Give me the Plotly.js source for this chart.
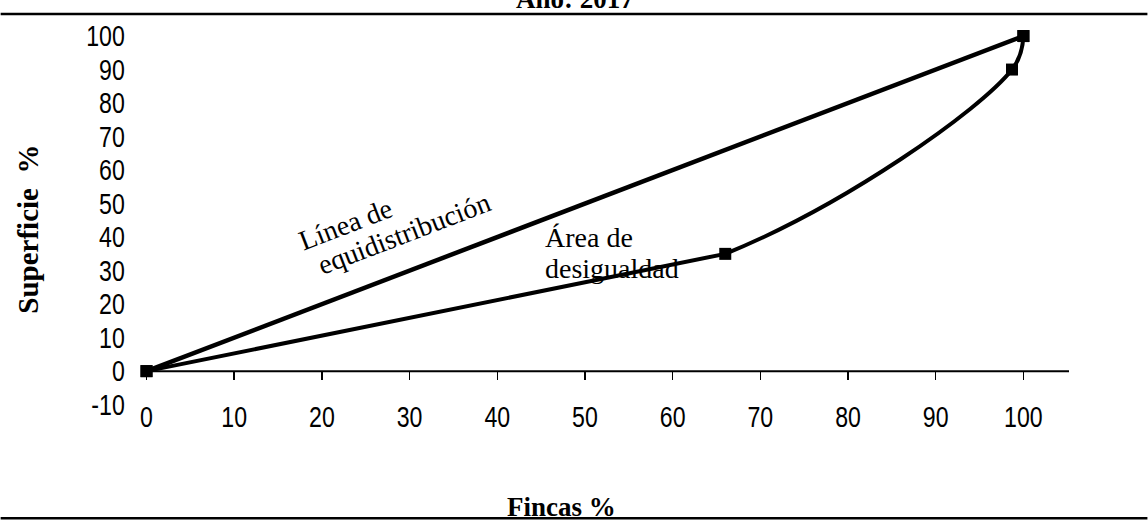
<!DOCTYPE html>
<html>
<head>
<meta charset="utf-8">
<script src="https://cdn.plot.ly/plotly-3.0.1.min.js"></script>
<style>html,body{margin:0;padding:0;background:#fff;}</style>
</head>
<body>
<div id="chart" style="width:1148px;height:521px;"></div>
<script>
// Data
const fincasPct = [0, 66, 98.7, 100];
const superficiePct = [0, 35, 90, 100];
const equiX = [0, 100];
const equiY = [0, 100];
const xTickVals = [0, 10, 20, 30, 40, 50, 60, 70, 80, 90, 100];
const yTickVals = [-10, 0, 10, 20, 30, 40, 50, 60, 70, 80, 90, 100];

// Layout geometry
const W = 1148, H = 521;
const L = 135.5, R = 78.5, T = 26, B = 113.1;
const PW = W - L - R, PH = H - T - B;
const XR = [-1.2, 105.2], YR = [-11, 103];
const xp = px => (px - L) / PW;
const yp = py => 1 - (py - T) / PH;
const xd = px => XR[0] + (px - L) / PW * (XR[1] - XR[0]);
const yd = py => YR[1] - (py - T) / PH * (YR[1] - YR[0]);

const serif = 'Liberation Serif, Times New Roman, serif';
const sans = 'Liberation Sans, Arial, sans-serif';

const traces = [
  {
    x: equiX, y: equiY, type: 'scatter', mode: 'lines+markers',
    line: {color: '#000', width: 4.5},
    marker: {symbol: 'square', size: 12, color: '#000'},
    hoverinfo: 'skip', showlegend: false
  },
  {
    x: fincasPct, y: superficiePct, type: 'scatter', mode: 'lines+markers',
    line: {color: '#000', width: 4, shape: 'spline', smoothing: 1},
    marker: {symbol: 'square', size: 12, color: '#000'},
    hoverinfo: 'skip', showlegend: false
  },
  {
    x: [0], y: [0], xaxis: 'x2', yaxis: 'y', type: 'scatter', mode: 'none',
    hoverinfo: 'skip', showlegend: false
  }
];

const layout = {
  width: W, height: H,
  margin: {l: L, r: R, t: T, b: B, pad: 0},
  paper_bgcolor: '#fff', plot_bgcolor: '#fff',
  showlegend: false,
  xaxis: {
    range: XR, tickvals: xTickVals, ticktext: xTickVals.map(String),
    showgrid: false, zeroline: false, showline: false, ticks: '',
    ticklabelstandoff: -9,
    tickfont: {family: sans, size: 26, color: '#000'}
  },
  xaxis2: {
    range: XR, overlaying: 'x', anchor: 'free',
    position: (0 - YR[0]) / (YR[1] - YR[0]),
    tickvals: xTickVals, showticklabels: false,
    ticks: 'outside', ticklen: 8, tickwidth: 1.5, tickcolor: '#000',
    showgrid: false, zeroline: false, showline: false
  },
  yaxis: {
    range: YR, tickvals: yTickVals, ticktext: yTickVals.map(String),
    showgrid: false, zeroline: false, showline: false,
    ticks: 'outside', ticklen: 5, tickcolor: 'rgba(0,0,0,0)',
    tickfont: {family: sans, size: 26, color: '#000'}
  },
  shapes: [
    {type: 'line', xref: 'x', yref: 'y', x0: 0, x1: XR[1], y0: 0, y1: 0,
     line: {color: '#000', width: 2}},
    {type: 'line', xref: 'paper', yref: 'paper', x0: xp(0), x1: xp(W), y0: yp(14), y1: yp(14),
     line: {color: '#000', width: 2.5}},
    {type: 'line', xref: 'paper', yref: 'paper', x0: xp(0), x1: xp(W), y0: yp(518), y1: yp(518),
     line: {color: '#000', width: 2.5}}
  ],
  annotations: [
    {text: 'Año: 2017', xref: 'paper', yref: 'paper', x: xp(575), y: yp(-1),
     xanchor: 'center', yanchor: 'middle', showarrow: false,
     font: {family: serif, size: 27, color: '#000', weight: 'bold'}},
    {text: 'Fincas %', xref: 'paper', yref: 'paper', x: xp(561), y: yp(507),
     xanchor: 'center', yanchor: 'middle', showarrow: false,
     font: {family: serif, size: 27, color: '#000', weight: 'bold'}},
    {text: 'Superficie\u00a0\u00a0%', xref: 'paper', yref: 'paper', x: xp(27), y: yp(229),
     xanchor: 'center', yanchor: 'middle', textangle: -90, showarrow: false,
     font: {family: serif, size: 29, color: '#000', weight: 'bold'}},
    {text: 'Línea de', xref: 'x', yref: 'y', x: xd(345), y: yd(224.5),
     xanchor: 'center', yanchor: 'middle', textangle: -21, showarrow: false,
     font: {family: serif, size: 28, color: '#000'}},
    {text: 'equidistribución', xref: 'x', yref: 'y', x: xd(404), y: yd(233),
     xanchor: 'center', yanchor: 'middle', textangle: -21, showarrow: false,
     font: {family: serif, size: 28, color: '#000'}},
    {text: 'Área de', xref: 'x', yref: 'y', x: xd(543), y: yd(237.5),
     xanchor: 'left', yanchor: 'middle', showarrow: false,
     font: {family: serif, size: 28, color: '#000'}},
    {text: 'desigualdad', xref: 'x', yref: 'y', x: xd(543), y: yd(268.5),
     xanchor: 'left', yanchor: 'middle', showarrow: false,
     font: {family: serif, size: 28, color: '#000'}}
  ]
};

Plotly.newPlot('chart', traces, layout, {displayModeBar: false, staticPlot: true}).then(() => {
  // narrow, tall tick digits like the reference
  const squeeze = (sel, anchorRight) => {
    document.querySelectorAll(sel).forEach(t => {
      const bb = t.getBBox();
      const cx = anchorRight ? bb.x + bb.width : bb.x + bb.width / 2;
      const cy = bb.y + bb.height / 2;
      const tr = t.getAttribute('transform') || '';
      t.setAttribute('transform', tr + ' translate(' + cx + ',' + cy + ') scale(0.89,1.13) translate(' + (-cx) + ',' + (-cy) + ')');
    });
  };
  squeeze('#chart .xtick text', false);
  squeeze('#chart .ytick text', true);
  // the reference curve runs straight from the origin to the first inner point
  const tr = document.querySelectorAll('#chart .scatterlayer .trace')[1];
  if (tr) {
    const p = tr.querySelector('path.js-line');
    if (p) {
      const d = p.getAttribute('d') || '';
      p.setAttribute('d', d.replace(/^M([^Q]+)Q[^ ]+ /, 'M$1L'));
    }
  }
});
</script>
</body>
</html>
